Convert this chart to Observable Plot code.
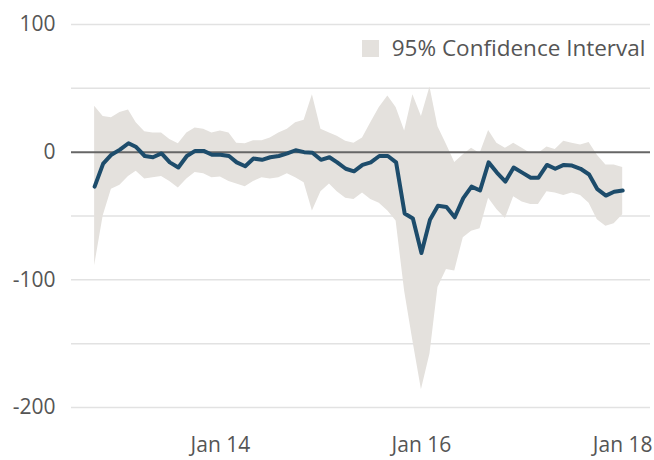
<!DOCTYPE html>
<html>
<head>
<meta charset="utf-8">
<script src="https://cdn.jsdelivr.net/npm/d3@7"></script>
<script src="https://cdn.jsdelivr.net/npm/@observablehq/plot@0.6"></script>
<style>
  html, body { margin: 0; padding: 0; background: #fff; }
</style>
</head>
<body>
<div id="chart"></div>
<script>
// Monthly series, Oct 2012 .. Jan 2018
const startYear = 2012, startMonth = 9; // October (0-based)
const estimate = [
  -27, -9, -2, 2, 7, 4, -3, -4, -1, -8, -12, -3, 1, 1, -2,
  -2, -3, -8, -11, -5, -6, -4, -3, -1, 1.5, 0, -0.5,
  -6, -4, -8, -13, -15, -10, -8, -3, -3, -8, -48, -52,
  -79, -53, -42, -43, -51, -36, -27, -30, -8, -16, -23, -12,
  -16, -20, -20, -10, -13, -10, -10.5, -13, -17.5, -29, -34, -31,
  -30
];
const upper = [
  36, 28, 27, 31, 33, 23, 16, 15, 15, 10, 6.5, 15, 19, 18, 15,
  16.5, 15, 7, 6.5, 9, 9, 11, 15, 18, 23, 25, 45,
  18, 15, 12.5, 8.6, 7, 11, 23, 35, 44, 35, 16.5, 45,
  28, 51, 20, 6, -8, -2, 3, -1, 17, 7, 3, 7,
  3, -1, -1, 4, 2, 8.6, 7, 5.6, 7.5, -2.5, -10, -10,
  -12
];
const lower = [
  -89, -50, -29, -26, -19, -15, -21, -20, -19, -23, -28, -21, -16, -17, -20,
  -19.5, -23, -25, -27, -23, -20, -21, -20, -17, -20, -24, -46,
  -31, -25, -31, -36, -37, -32, -37, -40, -46, -54, -109, -148,
  -186, -158, -106, -92, -93, -67, -62, -60, -36, -45, -52, -35,
  -39, -41, -41, -31, -32, -34, -32, -34, -40, -53, -58, -56,
  -49
];
const yLabelTicks = [-200, -100, 0, 100];
const yGridTicks = [-200, -150, -100, -50, 50, 100];
const xTickYears = [2014, 2016, 2018];
const legendLabel = "95% Confidence Interval";

const data = estimate.map((v, i) => ({
  date: new Date(Date.UTC(startYear, startMonth + i, 1)),
  value: v,
  hi: upper[i],
  lo: lower[i]
}));
const xTicks = xTickYears.map(y => new Date(Date.UTC(y, 0, 1)));

const bandColor = "#e4e1dd";
const lineColor = "#1d4c6b";
const textColor = "#555555";

const chart = Plot.plot({
  width: 654,
  height: 460,
  marginLeft: 71,
  marginRight: 4,
  marginTop: 24,
  marginBottom: 53,
  style: { fontFamily: "'Open Sans', sans-serif", fontSize: "21px", color: textColor, background: "#fff" },
  x: { type: "utc", domain: [new Date(Date.UTC(2012, 6, 9)), new Date(Date.UTC(2018, 3, 12))] },
  y: { domain: [-200, 100] },
  marks: [
    Plot.gridY(yGridTicks, { stroke: "#e2e2e2", strokeOpacity: 1, strokeWidth: 1.5 }),
    Plot.areaY(data, { x: "date", y1: "lo", y2: "hi", fill: bandColor, curve: "linear" }),
    Plot.ruleY([0], { stroke: "#666", strokeWidth: 2 }),
    Plot.lineY(data, { x: "date", y: "value", stroke: lineColor, strokeWidth: 4, strokeLinejoin: "round", strokeLinecap: "round" }),
    Plot.axisY(yLabelTicks, { tickSize: 0, tickPadding: 16, fill: textColor, tickFormat: d => String(d), label: null }),
    Plot.axisX(xTicks, { tickSize: 0, tickPadding: 30, fill: textColor, tickFormat: d => "Jan " + String(d.getUTCFullYear()).slice(2), label: null }),
    Plot.dot([legendLabel], { frameAnchor: "top-right", dx: -280, dy: 24, symbol: "square", r: 9.6, fill: bandColor, stroke: null }),
    Plot.text([legendLabel], { frameAnchor: "top-right", dx: -5, dy: 24, text: d => d, textAnchor: "end", lineAnchor: "middle", fill: textColor, fontSize: 22.5 })
  ]
});
document.getElementById("chart").appendChild(chart);
</script>
</body>
</html>
